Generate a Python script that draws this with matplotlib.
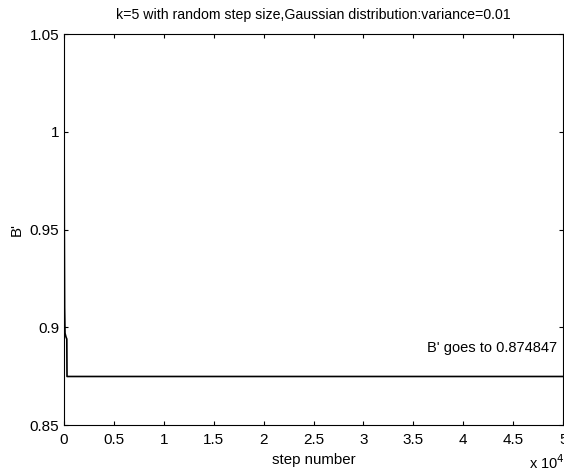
import matplotlib
matplotlib.use("Agg")
from matplotlib import pyplot as plt
from matplotlib.ticker import FuncFormatter

plt.rcParams['font.family'] = ['Liberation Sans', 'DejaVu Sans']

# B' against step number
steps = [0, 10, 30, 60, 100, 200, 280, 300, 50000]
b_prime = [1.03, 1.0, 0.95, 0.91, 0.897, 0.895, 0.894, 0.874847, 0.874847]

xticks = [0, 5000, 10000, 15000, 20000, 25000, 30000, 35000, 40000, 45000, 50000]
yticks = [0.85, 0.9, 0.95, 1.0, 1.05]

fig = plt.figure(figsize=(5.64, 4.76), dpi=100)
ax = fig.add_axes([0.1135, 0.107, 0.885, 0.8215])

ax.plot(steps, b_prime, color='k', linewidth=1.2)

ax.set_xlim(0, 50000)
ax.set_ylim(0.85, 1.05)
ax.set_xticks(xticks)
ax.set_yticks(yticks)
ax.xaxis.set_major_formatter(FuncFormatter(lambda v, p: '%g' % (v / 1e4)))
ax.yaxis.set_major_formatter(FuncFormatter(lambda v, p: '%g' % v))
ax.tick_params(direction='in', top=True, right=True, length=3, labelsize=11)
ax.tick_params(axis='x', pad=6)
for s in ax.spines.values():
    s.set_linewidth(0.8)

ax.set_title("k=5 with random step size,Gaussian distribution:variance=0.01",
             fontsize=10.2, pad=11)
ax.set_xlabel("step number", fontsize=10.8, labelpad=4)
ax.set_ylabel("B'", fontsize=10.8, labelpad=4)
ax.text(49400, 0.8895, "B' goes to 0.874847", fontsize=10.5, ha='right', va='center')
fig.text(0.938, 0.027, "x 10$^4$", fontsize=10.5, ha='left', va='center')

fig.savefig("out.png", dpi=100)
